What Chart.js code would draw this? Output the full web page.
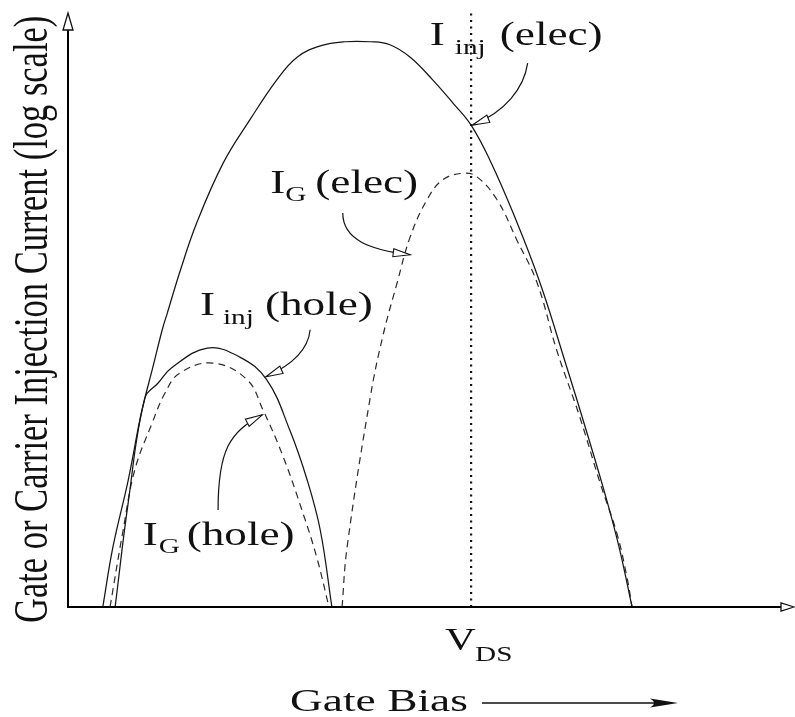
<!DOCTYPE html>
<html>
<head>
<meta charset="utf-8">
<script src="https://cdn.jsdelivr.net/npm/chart.js@4.4.1/dist/chart.umd.min.js"></script>
<style>
  html, body { margin: 0; padding: 0; background: #fff; }
  canvas { display: block; }
</style>
</head>
<body>
<canvas id="c" width="795" height="717"></canvas>
<script>
// Gate bias in arbitrary units (0-100); current on a log axis, arbitrary units (0-100).

// Injected electron current, I_inj (elec)
const injElecBias = [4.8, 6.2, 8.3, 9.9, 10.6, 11.6, 13.0, 13.7, 15.5, 17.8, 21.4, 25.1, 28.8, 31.6, 34.8, 38.2, 41.7, 44.4, 47.2, 50.3, 53.1, 55.6, 58.2, 61.4, 65.1, 68.8, 71.6, 74.3, 76.1, 77.8];
const injElecCurr = [0, 10.1, 21.3, 31.4, 35.1, 39.8, 46.6, 49.4, 56.6, 64.7, 74.6, 81.9, 88.6, 92.4, 94.3, 95.0, 95.0, 94.5, 92.4, 88.6, 84.7, 81.0, 75.1, 66.2, 54.5, 40.3, 29.2, 18.0, 9.6, 0];

// Gate current from electrons, I_G (elec)
const gateElecBias = [37.8, 38.5, 41.7, 43.4, 45.4, 47.2, 49.5, 51.7, 54.5, 56.4, 59.2, 61.9, 64.7, 67.4, 70.6, 73.4, 75.7, 77.1, 77.8];
const gateElecCurr = [0, 10.1, 35.3, 45.4, 54.5, 62.2, 68.4, 71.8, 72.9, 72.3, 68.4, 61.7, 54.5, 43.2, 31.9, 20.8, 12.4, 5.0, 0];

// Injected hole current, I_inj (hole)
const injHoleBias = [6.5, 8.3, 10.6, 12.4, 14.3, 19.2, 23.7, 27.4, 30.6, 33.0, 34.8, 36.4];
const injHoleCurr = [0, 17.5, 35.1, 37.6, 40.2, 43.5, 42.0, 38.2, 29.7, 21.3, 12.9, 0];

// Gate current from holes, I_G (hole)
const gateHoleBias = [5.8, 7.6, 9.2, 11.6, 13.4, 15.4, 20.0, 24.7, 26.9, 29.7, 32.4, 34.3, 36.0];
const gateHoleCurr = [0, 12.9, 23.0, 30.9, 36.0, 39.3, 41.0, 38.2, 33.1, 25.2, 15.8, 8.4, 0];

// Drain voltage marker on the bias axis
const vdsBias = 55.6;

const pts = (xs, ys) => xs.map((x, i) => ({ x, y: ys[i] }));

const LABEL_FONT = '"Liberation Serif", "Times New Roman", serif';
const SX_LABEL = 1.33;
const SX_AXIS = 1.42;

function wideText(ctx, text, x, y, size, sx) {
  ctx.save();
  ctx.translate(x, y);
  ctx.scale(sx, 1);
  ctx.font = size + 'px ' + LABEL_FONT;
  ctx.textBaseline = 'alphabetic';
  ctx.textAlign = 'left';
  ctx.fillText(text, 0, 0);
  ctx.restore();
}

function openHead(ctx, tx, ty, ang, len, hw, lw) {
  const c = Math.cos(ang), s = Math.sin(ang);
  const bx = tx - len * c, by = ty - len * s;
  ctx.save();
  ctx.beginPath();
  ctx.moveTo(tx, ty);
  ctx.lineTo(bx - hw * s, by + hw * c);
  ctx.lineTo(bx + hw * s, by - hw * c);
  ctx.closePath();
  ctx.fillStyle = '#fff';
  ctx.fill();
  ctx.lineWidth = lw;
  ctx.strokeStyle = '#111';
  ctx.stroke();
  ctx.restore();
}

const sketchPlugin = {
  id: 'sketch',
  afterDatasetsDraw(chart) {
    const { ctx, chartArea: a, scales } = chart;
    const xs = scales.x, ys = scales.y;
    const P = (v) => [xs.getPixelForValue(v[0]), ys.getPixelForValue(v[1])];

    ctx.save();
    ctx.fillStyle = '#111';
    ctx.strokeStyle = '#000';

    // axes with open arrowheads
    ctx.lineWidth = 2;
    ctx.beginPath();
    ctx.moveTo(a.left, a.bottom + 1);
    ctx.lineTo(a.left, a.top + 4);
    ctx.moveTo(a.left - 1, a.bottom);
    ctx.lineTo(a.right - 2, a.bottom);
    ctx.stroke();
    openHead(ctx, a.left, a.top + 1, -Math.PI / 2, 17, 5, 1.3);
    openHead(ctx, a.right + 1, a.bottom, 0, 13, 4, 1.3);

    // curved pointers from the labels to the curves
    const pointers = [
      [[63.4, 91.4], [62.9, 87.2], [60.3, 83.2], [55.8, 81.0]],
      [[37.9, 66.2], [37.9, 61.7], [41.7, 60.0], [47.2, 59.2]],
      [[33.4, 46.6], [33.1, 42.9], [30.6, 40.5], [27.3, 38.7]],
      [[20.7, 16.3], [20.7, 26.4], [22.3, 29.4], [26.8, 32.3]]
    ];
    ctx.lineWidth = 1.2;
    ctx.strokeStyle = '#111';
    pointers.forEach(pp => {
      const [p0, c1, c2, p3] = pp.map(P);
      ctx.beginPath();
      ctx.moveTo(p0[0], p0[1]);
      ctx.bezierCurveTo(c1[0], c1[1], c2[0], c2[1], p3[0], p3[1]);
      ctx.stroke();
      const ang = Math.atan2(p3[1] - c2[1], p3[0] - c2[0]);
      openHead(ctx, p3[0], p3[1], ang, 17, 4, 1.1);
    });

    // curve labels
    const labels = [
      { at: [49.9, 94.5], sub: 'inj', rest: '(elec)', subDx: 25, subDy: 9, restDx: 70 },
      { at: [27.9, 69.6], sub: 'G', rest: '(elec)', subDx: 15, subDy: 8, restDx: 45 },
      { at: [18.2, 49.1], sub: 'inj', rest: '(hole)', subDx: 23, subDy: 9, restDx: 65 },
      { at: [10.3, 10.4], sub: 'G', rest: '(hole)', subDx: 16, subDy: 8, restDx: 44 }
    ];
    ctx.fillStyle = '#111';
    labels.forEach(l => {
      const [x, y] = P(l.at);
      wideText(ctx, 'I', x, y, 34, SX_LABEL);
      wideText(ctx, l.sub, x + l.subDx, y + l.subDy, 22, SX_LABEL);
      wideText(ctx, l.rest, x + l.restDx, y, 34, SX_LABEL);
    });

    // V_DS tick label
    const vx = xs.getPixelForValue(vdsBias);
    wideText(ctx, 'V', vx - 26, a.bottom + 43, 32, SX_LABEL);
    wideText(ctx, 'DS', vx + 4, a.bottom + 54, 22, SX_LABEL);

    // horizontal axis title with arrow
    wideText(ctx, 'Gate Bias', a.left + 222, a.bottom + 104, 32, SX_AXIS);
    const ay = a.bottom + 96;
    ctx.lineWidth = 1.6;
    ctx.strokeStyle = '#111';
    ctx.beginPath();
    ctx.moveTo(a.left + 414, ay);
    ctx.lineTo(a.left + 596, ay);
    ctx.stroke();
    ctx.beginPath();
    ctx.moveTo(a.left + 610, ay);
    ctx.lineTo(a.left + 582, ay - 4.5);
    ctx.quadraticCurveTo(a.left + 590, ay, a.left + 582, ay + 4.5);
    ctx.closePath();
    ctx.fillStyle = '#111';
    ctx.fill();

    // vertical axis title
    ctx.save();
    ctx.translate(a.left - 21, a.bottom + 16);
    ctx.scale(SX_AXIS, 1);
    ctx.rotate(-Math.PI / 2);
    ctx.font = '34.5px ' + LABEL_FONT;
    ctx.textBaseline = 'alphabetic';
    ctx.fillText('Gate or Carrier Injection Current (log scale)', 0, 0);
    ctx.restore();

    ctx.restore();
  }
};

const solid = { borderColor: '#151515', borderWidth: 1.25, pointRadius: 0, showLine: true, tension: 0.4, fill: false, clip: 6 };
const dashed = Object.assign({}, solid, { borderColor: '#2a2a2a', borderWidth: 1.2, borderDash: [7, 5] });

new Chart(document.getElementById('c'), {
  type: 'scatter',
  data: {
    datasets: [
      Object.assign({ label: 'I_inj (elec)', data: pts(injElecBias, injElecCurr) }, solid),
      Object.assign({ label: 'I_G (elec)', data: pts(gateElecBias, gateElecCurr) }, dashed),
      Object.assign({ label: 'I_inj (hole)', data: pts(injHoleBias, injHoleCurr) }, solid),
      Object.assign({ label: 'I_G (hole)', data: pts(gateHoleBias, gateHoleCurr) }, dashed),
      {
        label: 'V_DS', data: [{ x: vdsBias, y: 0 }, { x: vdsBias, y: 100 }],
        borderColor: '#111', borderWidth: 2.2, borderDash: [2, 4.5], borderCapStyle: 'butt',
        pointRadius: 0, showLine: true, tension: 0, clip: 6
      }
    ]
  },
  options: {
    responsive: false,
    animation: false,
    events: [],
    layout: { padding: { left: 68, right: 2, top: 12, bottom: 110 } },
    plugins: { legend: { display: false }, tooltip: { enabled: false } },
    scales: {
      x: { type: 'linear', min: 0, max: 100, display: false },
      y: { type: 'linear', min: 0, max: 100, display: false }
    }
  },
  plugins: [sketchPlugin]
});
</script>
</body>
</html>
